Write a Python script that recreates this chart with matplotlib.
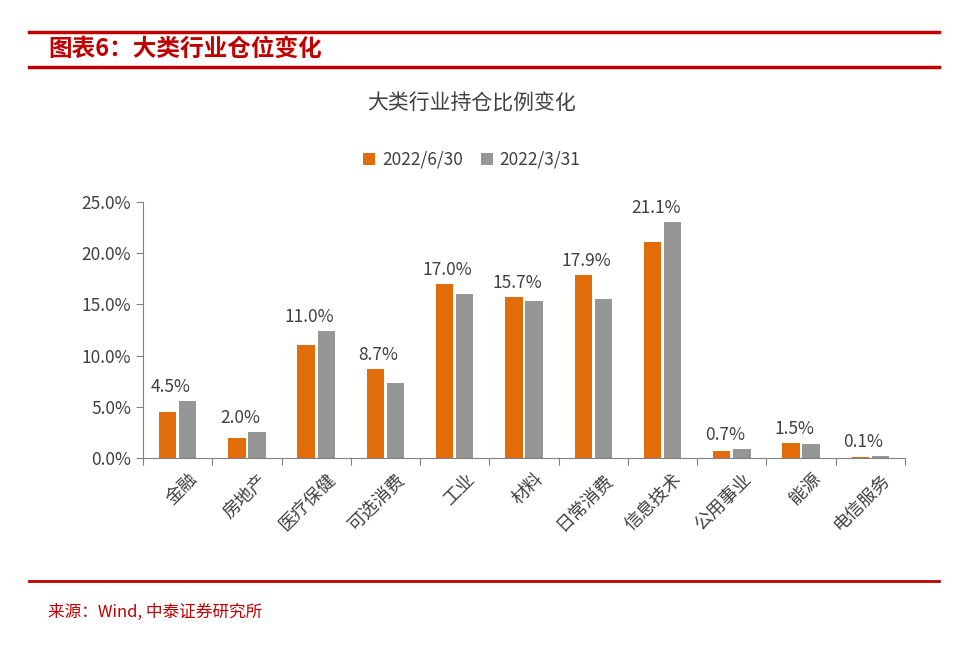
import matplotlib
matplotlib.use("Agg")
import matplotlib.pyplot as plt
from matplotlib.lines import Line2D
import numpy as np

categories = ["金融","房地产","医疗保健","可选消费","工业","材料","日常消费","信息技术","公用事业","能源","电信服务"]
s_0630 = [4.5,2.0,11.0,8.7,17.0,15.7,17.9,21.1,0.7,1.5,0.1]
s_0331 = [5.6,2.5,12.4,7.3,16.0,15.3,15.5,23.0,0.9,1.4,0.2]
labels_0630 = ["4.5%","2.0%","11.0%","8.7%","17.0%","15.7%","17.9%","21.1%","0.7%","1.5%","0.1%"]
yticks = [0,5,10,15,20,25]
ytick_labels = ["0.0%","5.0%","10.0%","15.0%","20.0%","25.0%"]

F = "Noto Sans CJK SC"
plt.rcParams["font.family"] = F
fig = plt.figure(figsize=(9.63,6.51), dpi=100)
red = "#C00000"
fig.add_artist(Line2D([0.03,0.975],[1-32/651]*2, color=red, lw=2.5))
fig.add_artist(Line2D([0.03,0.975],[1-67/651]*2, color=red, lw=2.5))
fig.add_artist(Line2D([0.03,0.975],[1-581/651]*2, color=red, lw=2))
fig.text(0.05,1-49/651,"图表6：大类行业仓位变化",color=red,fontsize=17,fontweight="bold",style="italic",va="center")
fig.text(0.05,1-612/651,"来源：Wind, 中泰证券研究所",color=red,fontsize=12,va="center")
fig.text(0.49,1-104/651,"大类行业持仓比例变化",color="#404040",fontsize=15,ha="center",va="center")

ax = fig.add_axes([143/963, 1-458/651, 762/963, 256/651])
x = np.arange(len(categories))
w = 0.25
ax.bar(x-w/2-0.02, s_0630, w, color="#E36C0A", label="2022/6/30")
ax.bar(x+w/2+0.02, s_0331, w, color="#969696", label="2022/3/31")
for xi, v, l in zip(x, s_0630, labels_0630):
    ax.text(xi-0.1, max(v, s_0331[xi])+0.5, l, ha="center", va="bottom", fontsize=12.5, color="#404040")
ax.set_xlim(-0.5, len(categories)-0.5)
ax.set_ylim(0,25)
ax.set_yticks(yticks)
ax.set_yticklabels(ytick_labels, fontsize=12.5, color="#404040")
ax.set_xticks(np.arange(len(categories)+1)-0.5, minor=False)
ax.set_xticklabels([""]*(len(categories)+1))
ax.tick_params(axis="x", length=5, color="#808080")
ax.tick_params(axis="y", length=5, color="#808080")
for xi, c in zip(x, categories):
    ax.text(xi+0.15, -1.2, c, rotation=45, ha="right", va="top", fontsize=13, color="#404040", rotation_mode="anchor")
for s in ["top","right"]:
    ax.spines[s].set_visible(False)
for s in ["left","bottom"]:
    ax.spines[s].set_color("#808080")
fig.legend(loc="center", bbox_to_anchor=(0.49,1-160/651), ncol=2, frameon=False, fontsize=12.5,
           handlelength=0.7, handleheight=0.7, columnspacing=1.0, handletextpad=0.4, labelcolor="#404040")
fig.savefig("out.png", dpi=100)
